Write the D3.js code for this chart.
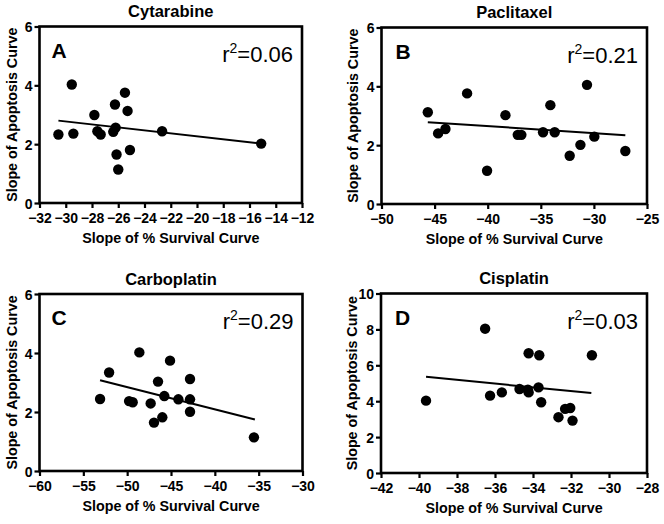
<!DOCTYPE html>
<html><head><meta charset="utf-8">
<script src="https://cdn.jsdelivr.net/npm/d3@7"></script>
<style>
body{margin:0;background:#fff;}
svg{display:block;font-family:"Liberation Sans",Arial,sans-serif;}
</style></head>
<body><svg id="c" width="664" height="524"></svg>
<script>
// ---- data ----
const drugNames = ["Cytarabine","Paclitaxel","Carboplatin","Cisplatin"];
const panelLetters = ["A","B","C","D"];
const rSquared = ["0.06","0.21","0.29","0.03"];

const cytarabineX = [-30.56,-29.42,-29.54,-27.82,-27.59,-27.34,-26.25,-26.38,-26.2,-25.49,-25.29,-26.13,-26.0,-25.11,-22.66,-15.11];
const cytarabineY = [2.33,2.36,4.03,2.99,2.44,2.33,3.35,2.42,2.56,3.75,3.13,1.65,1.14,1.80,2.44,2.02];

const paclitaxelX = [-45.64,-44.67,-43.98,-41.94,-38.33,-40.06,-37.17,-36.83,-34.79,-34.10,-33.69,-32.28,-31.27,-30.65,-29.96,-27.04];
const paclitaxelY = [3.12,2.40,2.55,3.76,3.02,1.13,2.35,2.35,2.44,3.36,2.44,1.64,2.01,4.05,2.29,1.80];

const carboplatinX = [-53.09,-52.06,-49.78,-49.37,-48.61,-47.32,-46.94,-46.48,-45.99,-45.76,-45.11,-44.16,-42.83,-42.83,-42.83,-35.54];
const carboplatinY = [2.44,3.34,2.37,2.33,4.02,2.29,1.64,3.03,1.82,2.54,3.74,2.43,3.12,2.43,2.01,1.14];

const cisplatinX = [-39.63,-36.52,-36.26,-35.64,-34.71,-34.27,-34.23,-34.23,-33.67,-33.71,-33.57,-32.66,-32.31,-32.04,-31.92,-30.90];
const cisplatinY = [4.03,8.04,4.31,4.49,4.68,4.64,4.49,6.67,6.56,4.77,3.94,3.11,3.57,3.62,2.92,6.56];

// fitted regression lines: y = intercept + slope*x
const fitSlopes = [-0.0505,-0.02366,-0.0753,-0.1046];
const fitIntercepts = [1.257,1.70,-0.92,1.215];
const fitXStart = [-30.56,-45.64,-53.09,-39.63];
const fitXEnd = [-15.11,-27.04,-35.43,-30.93];

const xDomains = [[-32,-12],[-50,-25],[-60,-30],[-42,-28]];
const xTicks = [d3.range(-32,-11,2), d3.range(-50,-24,5), d3.range(-60,-29,5), d3.range(-42,-27,2)];
const yDomains = [[0,6],[0,6],[0,6],[0,10]];
const yTicks = [[0,2,4,6],[0,2,4,6],[0,2,4,6],[0,2,4,6,8,10]];

const xTitle = "Slope of % Survival Curve";
const yTitle = "Slope of Apoptosis Curve";

// ---- layout ----
const plotBoxes = [
  {l:39.5,t:26.5,r:302,b:203},
  {l:381.5,t:27.5,r:647,b:204},
  {l:39.5,t:294,r:302.5,b:471},
  {l:381,t:293.5,r:647,b:473}
];
const allX = [cytarabineX,paclitaxelX,carboplatinX,cisplatinX];
const allY = [cytarabineY,paclitaxelY,carboplatinY,cisplatinY];

const svg = d3.select("#c");

plotBoxes.forEach((p,i)=>{
  const x = d3.scaleLinear().domain(xDomains[i]).range([p.l,p.r]);
  const y = d3.scaleLinear().domain(yDomains[i]).range([p.b,p.t]);
  const g = svg.append("g");

  // frame
  g.append("rect").attr("x",p.l).attr("y",p.t).attr("width",p.r-p.l).attr("height",p.b-p.t)
    .attr("fill","none").attr("stroke","#000").attr("stroke-width",2.6);

  const xa = g.append("g").attr("transform",`translate(0,${p.b})`)
    .call(d3.axisBottom(x).tickValues(xTicks[i]).tickSize(5).tickSizeOuter(0).tickPadding(5).tickFormat(d3.format("d")));
  const ya = g.append("g").attr("transform",`translate(${p.l},0)`)
    .call(d3.axisLeft(y).tickValues(yTicks[i]).tickSize(5).tickSizeOuter(0).tickPadding(2).tickFormat(d3.format("d")));
  [xa,ya].forEach(a=>{
    a.attr("font-size",null).attr("font-family",null);
    a.select(".domain").remove();
    a.selectAll(".tick line").attr("stroke","#000").attr("stroke-width",2.2);
    a.selectAll(".tick text").attr("fill","#000").style("font-size","14px").style("font-weight","bold");
  });
  ya.selectAll(".tick text").attr("dy","0.36em");

  // title
  g.append("text").attr("x",(p.l+p.r)/2).attr("y",p.t-9.5).attr("text-anchor","middle")
    .style("font-size","16.5px").style("font-weight","bold").text(drugNames[i]);
  // axis titles
  g.append("text").attr("x",(p.l+p.r)/2).attr("y",p.b+40).attr("text-anchor","middle")
    .style("font-size","14.3px").style("font-weight","bold").text(xTitle);
  const ytx = p.l - (i%2===0 ? 23 : 24);
  g.append("text").attr("transform",`translate(${ytx},${(p.t+p.b)/2}) rotate(-90)`).attr("text-anchor","middle")
    .style("font-size","14.3px").style("font-weight","bold").text(yTitle);

  // panel letter
  g.append("text").attr("x",p.l+(i%2===0?12:14)).attr("y",p.t+31)
    .style("font-size","21px").style("font-weight","bold").text(panelLetters[i]);
  // r^2
  const rt = g.append("text").attr("x",p.r-9).attr("y",p.t+35).attr("text-anchor","end")
    .style("font-size","22px");
  rt.append("tspan").text("r");
  rt.append("tspan").attr("dy","-9").style("font-size","14px").text("2");
  rt.append("tspan").attr("dy","9").text("="+rSquared[i]);

  // regression line
  g.append("line")
    .attr("x1",x(fitXStart[i])).attr("y1",y(fitIntercepts[i]+fitSlopes[i]*fitXStart[i]))
    .attr("x2",x(fitXEnd[i])).attr("y2",y(fitIntercepts[i]+fitSlopes[i]*fitXEnd[i]))
    .attr("stroke","#000").attr("stroke-width",2);

  // points
  g.selectAll("circle.pt").data(allX[i].map((v,k)=>[v,allY[i][k]])).join("circle")
    .attr("class","pt").attr("cx",d=>x(d[0])).attr("cy",d=>y(d[1])).attr("r",5.2).attr("fill","#000");
});
</script></body></html>
